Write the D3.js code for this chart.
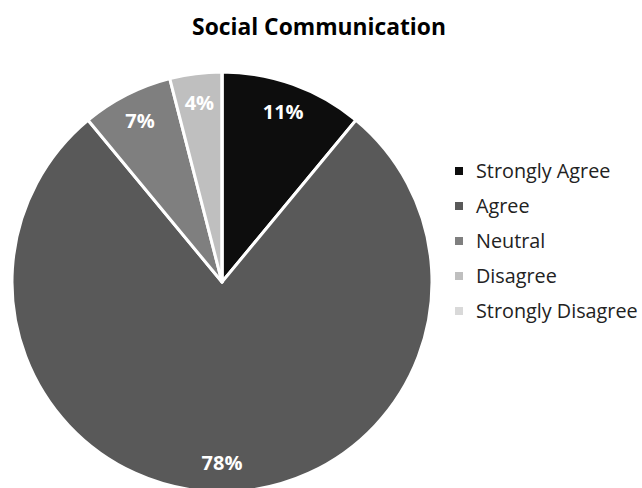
<!DOCTYPE html>
<html>
<head>
<meta charset="utf-8">
<script src="https://cdn.jsdelivr.net/npm/d3@7"></script>
<style>
  body { margin: 0; background: #fff; }
  svg { font-family: "Open Sans", "DejaVu Sans", sans-serif; }
</style>
</head>
<body>
<svg id="chart" width="642" height="488"></svg>
<script>
var categories = ["Strongly Agree", "Agree", "Neutral", "Disagree", "Strongly Disagree"];
var values = [11, 78, 7, 4, 0];
var shades = ["#0d0d0d", "#595959", "#7f7f7f", "#bfbfbf", "#d9d9d9"];

var svg = d3.select("svg#chart");
var cx = 222, cy = 282, radius = 210;

var color = d3.scaleOrdinal().domain(categories).range(shades);

var data = categories.map(function(c, i) { return { name: c, value: values[i] }; });

svg.append("text")
    .attr("x", 319)
    .attr("y", 35)
    .attr("text-anchor", "middle")
    .attr("font-size", 22.8)
    .attr("font-weight", "bold")
    .attr("fill", "#000")
    .text("Social Communication");

var pie = d3.pie().value(d => d.value).sort(null);
var arc = d3.arc().innerRadius(0).outerRadius(radius);
var labelArc = d3.arc().innerRadius(radius * 0.86).outerRadius(radius * 0.86);

var g = svg.append("g").attr("transform", "translate(" + cx + "," + cy + ")");

var arcs = pie(data);

g.selectAll(".slice")
    .data(arcs)
    .enter()
    .append("path")
    .attr("class", "slice")
    .attr("d", arc)
    .attr("fill", d => color(d.data.name))
    .attr("stroke", "#fff")
    .attr("stroke-width", 3)
    .attr("stroke-linejoin", "round");

g.selectAll(".label")
    .data(arcs.filter(d => d.data.value > 0))
    .enter()
    .append("text")
    .attr("class", "label")
    .attr("transform", d => "translate(" + labelArc.centroid(d) + ")")
    .attr("text-anchor", "middle")
    .attr("dy", "0.36em")
    .attr("font-size", 20)
    .attr("font-weight", "bold")
    .attr("fill", "#fff")
    .text(d => d.data.value + "%");

var legend = svg.append("g").attr("transform", "translate(455,171)");

var item = legend.selectAll(".item")
    .data(categories)
    .enter()
    .append("g")
    .attr("class", "item")
    .attr("transform", (d, i) => "translate(0," + (i * 35) + ")");

item.append("rect")
    .attr("x", 0)
    .attr("y", -4)
    .attr("width", 8)
    .attr("height", 8)
    .attr("fill", d => color(d));

item.append("text")
    .attr("x", 21)
    .attr("dy", "0.35em")
    .attr("font-size", 19.8)
    .attr("fill", "#222")
    .text(d => d);
</script>
</body>
</html>
